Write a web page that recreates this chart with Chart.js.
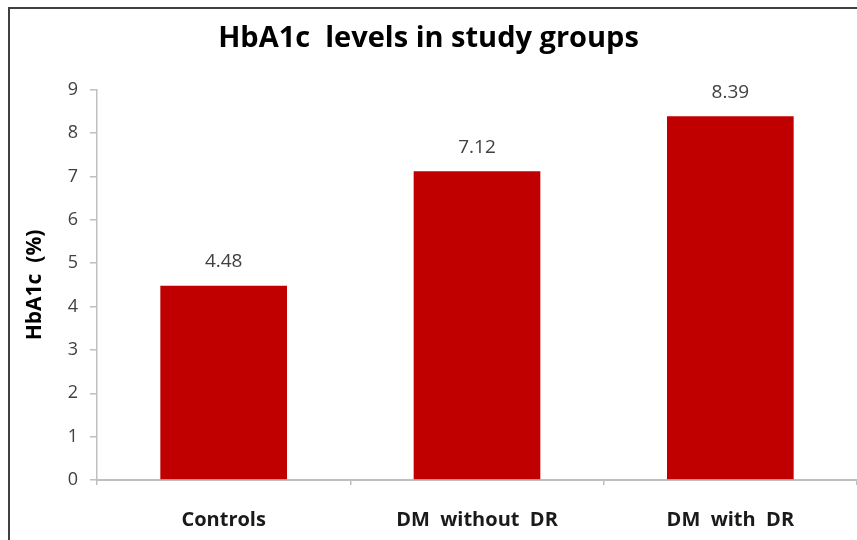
<!DOCTYPE html>
<html>
<head>
<meta charset="utf-8">
<script src="https://cdn.jsdelivr.net/npm/chart.js@4"></script>
<style>
  html, body { margin: 0; padding: 0; background: #fff; }
  #wrap { position: relative; width: 857px; height: 540px; }
  #frame { position: absolute; left: 8px; top: 7px; right: 0; bottom: 0;
           border-left: 2px solid #404040; border-top: 2px solid #404040; pointer-events: none; }
  canvas { position: absolute; left: 0; top: 0; }
</style>
</head>
<body>
<div id="wrap">
  <canvas id="chart" width="857" height="540"></canvas>
  <div id="frame"></div>
</div>
<script>
const groups = ['Controls', 'DM  without  DR', 'DM  with  DR'];
const hba1c = [4.48, 7.12, 8.39];
const yTicks = [0, 1, 2, 3, 4, 5, 6, 7, 8, 9];

const FONT = '"Open Sans", sans-serif';

// draws the value above each bar
const valueLabels = {
  id: 'valueLabels',
  afterDatasetsDraw(chart) {
    const ctx = chart.ctx;
    const meta = chart.getDatasetMeta(0);
    ctx.save();
    ctx.font = '19px ' + FONT;
    ctx.fillStyle = '#404040';
    ctx.textAlign = 'center';
    ctx.textBaseline = 'middle';
    meta.data.forEach((bar, i) => {
      ctx.fillText(hba1c[i].toFixed(2), bar.x, bar.y - 24);
    });
    ctx.restore();
  }
};

new Chart(document.getElementById('chart').getContext('2d'), {
  type: 'bar',
  data: {
    labels: groups,
    datasets: [{
      data: hba1c,
      backgroundColor: '#C00000',
      borderWidth: 0,
      categoryPercentage: 1,
      barPercentage: 0.5
    }]
  },
  options: {
    responsive: false,
    animation: false,
    layout: { padding: { left: 0, right: 0, top: 0, bottom: 0 } },
    plugins: {
      legend: { display: false },
      tooltip: { enabled: false },
      title: {
        display: true,
        text: 'HbA1c  levels in study groups',
        color: '#000',
        font: { family: FONT, size: 29, weight: 'bold' },
        padding: { top: 21, bottom: 34 }
      }
    },
    scales: {
      y: {
        min: 0,
        max: 9,
        afterBuildTicks(scale) { scale.ticks = yTicks.map(v => ({ value: v })); },
        afterFit(scale) { scale.width = 97; },
        ticks: {
          color: '#404040',
          font: { family: FONT, size: 18 },
          padding: 12
        },
        grid: { drawOnChartArea: false, tickLength: 7, color: '#bfbfbf', lineWidth: 1.5 },
        border: { color: '#bfbfbf', width: 1.5 },
        title: {
          display: true,
          text: 'HbA1c  (%)',
          color: '#000',
          font: { family: FONT, size: 21, weight: 'bold' },
          padding: { top: 22, bottom: 0 }
        }
      },
      x: {
        afterFit(scale) { scale.height = 60; },
        ticks: {
          color: '#1a1a1a',
          font: { family: FONT, size: 20, weight: 'bold' },
          padding: 23
        },
        grid: { offset: true, drawOnChartArea: false, tickLength: 5, color: '#bfbfbf', lineWidth: 1.5 },
        border: { color: '#bfbfbf', width: 2 }
      }
    }
  },
  plugins: [valueLabels]
});
</script>
</body>
</html>
